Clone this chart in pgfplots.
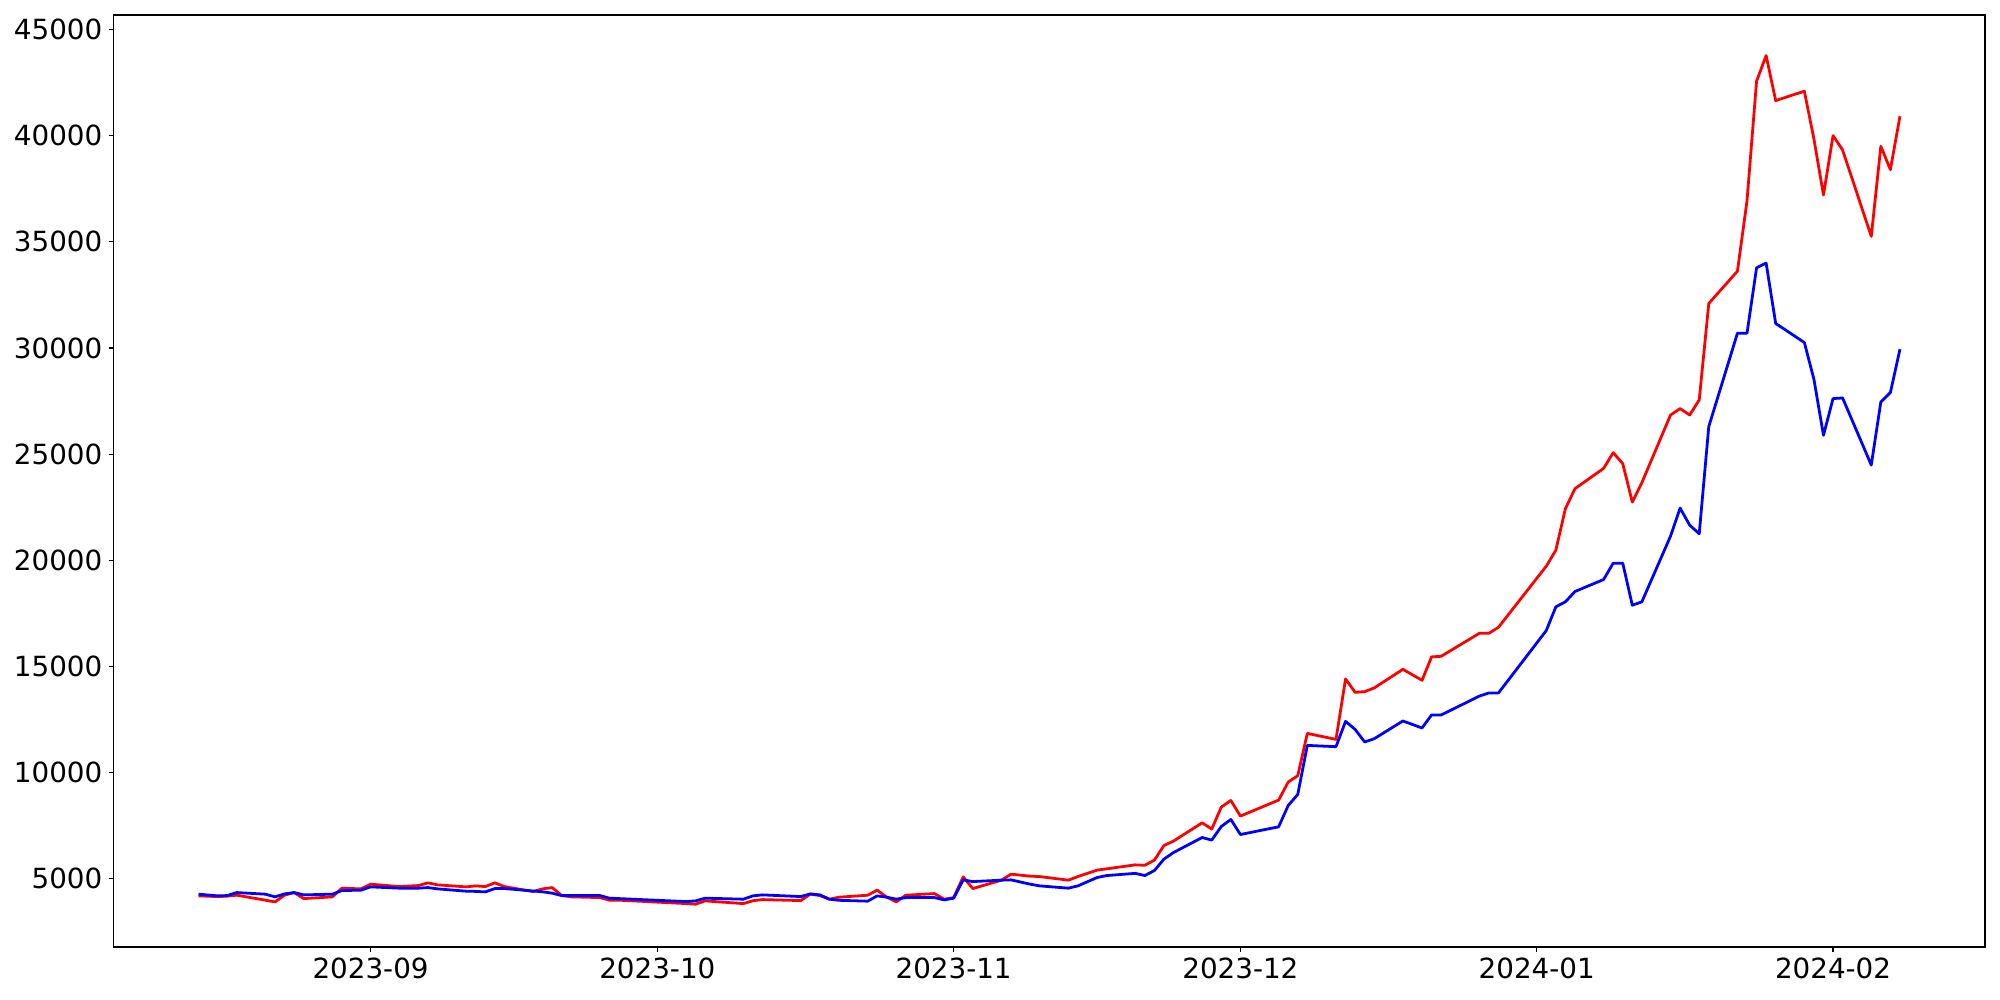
\documentclass[border=0pt]{standalone}
\usepackage{fontspec}
\setmainfont{DejaVu Sans}
\usepackage{pgfplots}
\pgfplotsset{compat=1.18}
\begin{document}
\begin{tikzpicture}
\begin{axis}[
  scale only axis,
  width=1347.5pt, height=671pt,
  xmin=-26.9, xmax=168.9,
  ymin=1783, ymax=45689,
  xtick={0,30,61,91,122,153},
  xticklabels={2023-09,2023-10,2023-11,2023-12,2024-01,2024-02},
  ytick={5000,10000,15000,20000,25000,30000,35000,40000,45000},
  /pgf/number format/assume math mode=true,
  /pgf/number format/1000 sep={},
  scaled y ticks=false,
  tick label style={font=\fontsize{20}{24}\selectfont},
  xtick pos=bottom, ytick pos=left,
  tick align=outside,
  major tick length=3.5pt,
  every tick/.style={black, line width=0.8pt},
  axis line style={line width=0.8pt},
  xticklabel style={yshift=-1pt},
  yticklabel style={xshift=-1pt},
  clip=false,
]
\addplot[red, line width=2pt, line join=round] coordinates {
(-18,4190) (-16,4156) (-15,4175) (-14,4222) (-11,3985) (-10,3906) (-9,4222) (-8,4345) (-7,4061)
(-4,4142) (-3,4552) (-1,4519) (0,4741) (3,4627) (5,4675) (6,4802) (7,4708) (10,4613) (11,4660)
(12,4627) (13,4802) (14,4627) (17,4392) (18,4519) (19,4580) (20,4203) (21,4142) (24,4108)
(25,3986) (26,3986) (33,3825) (34,3797) (35,3953) (39,3825) (40,3960) (41,4014) (45,3967)
(46,4269) (47,4203) (48,4030) (49,4127) (52,4220) (53,4458) (54,4127) (55,3906) (56,4220)
(59,4297) (60,4033) (61,4108) (62,5085) (63,4533) (66,4929) (67,5212) (69,5118) (70,5099)
(73,4929) (74,5099) (76,5401) (77,5462) (80,5650) (81,5630) (82,5873) (83,6561) (84,6770)
(87,7632) (88,7335) (89,8373) (90,8684) (91,7948) (95,8703) (96,9552) (97,9849) (98,11844)
(101,11561) (102,14410) (103,13778) (104,13811) (105,13986) (108,14863) (110,14344)
(111,15448) (112,15476) (116,16560) (117,16560) (118,16844) (123,19722) (124,20476)
(125,22429) (126,23373) (129,24330) (130,25071) (131,24552) (132,22741) (133,23656)
(136,26844) (137,27146) (138,26844) (139,27552) (140,32099) (143,33620) (144,36939)
(145,42571) (146,43778) (147,41655) (150,42099) (151,39849) (152,37208) (153,40005)
(154,39330) (157,35259) (158,39505) (159,38401) (160,40920)
};
\addplot[blue, line width=2pt, line join=round] coordinates {
(-18,4269) (-16,4189) (-15,4203) (-14,4345) (-11,4269) (-10,4142) (-9,4283) (-8,4345) (-7,4236)
(-4,4269) (-3,4439) (-1,4458) (0,4613) (3,4552) (5,4552) (6,4580) (7,4519) (10,4410) (11,4400)
(12,4377) (13,4533) (14,4533) (17,4420) (18,4380) (19,4316) (20,4203) (21,4203) (24,4203)
(25,4080) (26,4061) (33,3920) (34,3953) (35,4080) (39,4033) (40,4189) (41,4236) (45,4156)
(46,4283) (47,4236) (48,4033) (49,3980) (52,3939) (53,4189) (54,4127) (55,4033) (56,4108)
(59,4108) (60,4000) (61,4080) (62,4943) (63,4863) (66,4929) (67,4943) (69,4741) (70,4660)
(73,4552) (74,4660) (76,5052) (77,5146) (80,5250) (81,5146) (82,5382) (83,5920) (84,6231)
(87,6939) (88,6816) (89,7458) (90,7788) (91,7080) (95,7443) (96,8448) (97,8967) (98,11278)
(101,11217) (102,12410) (103,12033) (104,11439) (105,11594) (108,12429) (110,12099)
(111,12712) (112,12712) (116,13600) (117,13750) (118,13750) (123,16689) (124,17807)
(125,18042) (126,18528) (129,19094) (130,19863) (131,19863) (132,17882) (133,18042)
(136,21137) (137,22458) (138,21656) (139,21250) (140,26297) (143,30698) (144,30698)
(145,33778) (146,34000) (147,31156) (150,30259) (151,28528) (152,25887) (153,27618)
(154,27646) (157,24486) (158,27458) (159,27901) (160,29943)
};
\end{axis}
\path ([shift={(-81.7pt,-38.2pt)}]current axis.south west) rectangle ([shift={(10.8pt,10.8pt)}]current axis.north east);
\end{tikzpicture}
\end{document}
